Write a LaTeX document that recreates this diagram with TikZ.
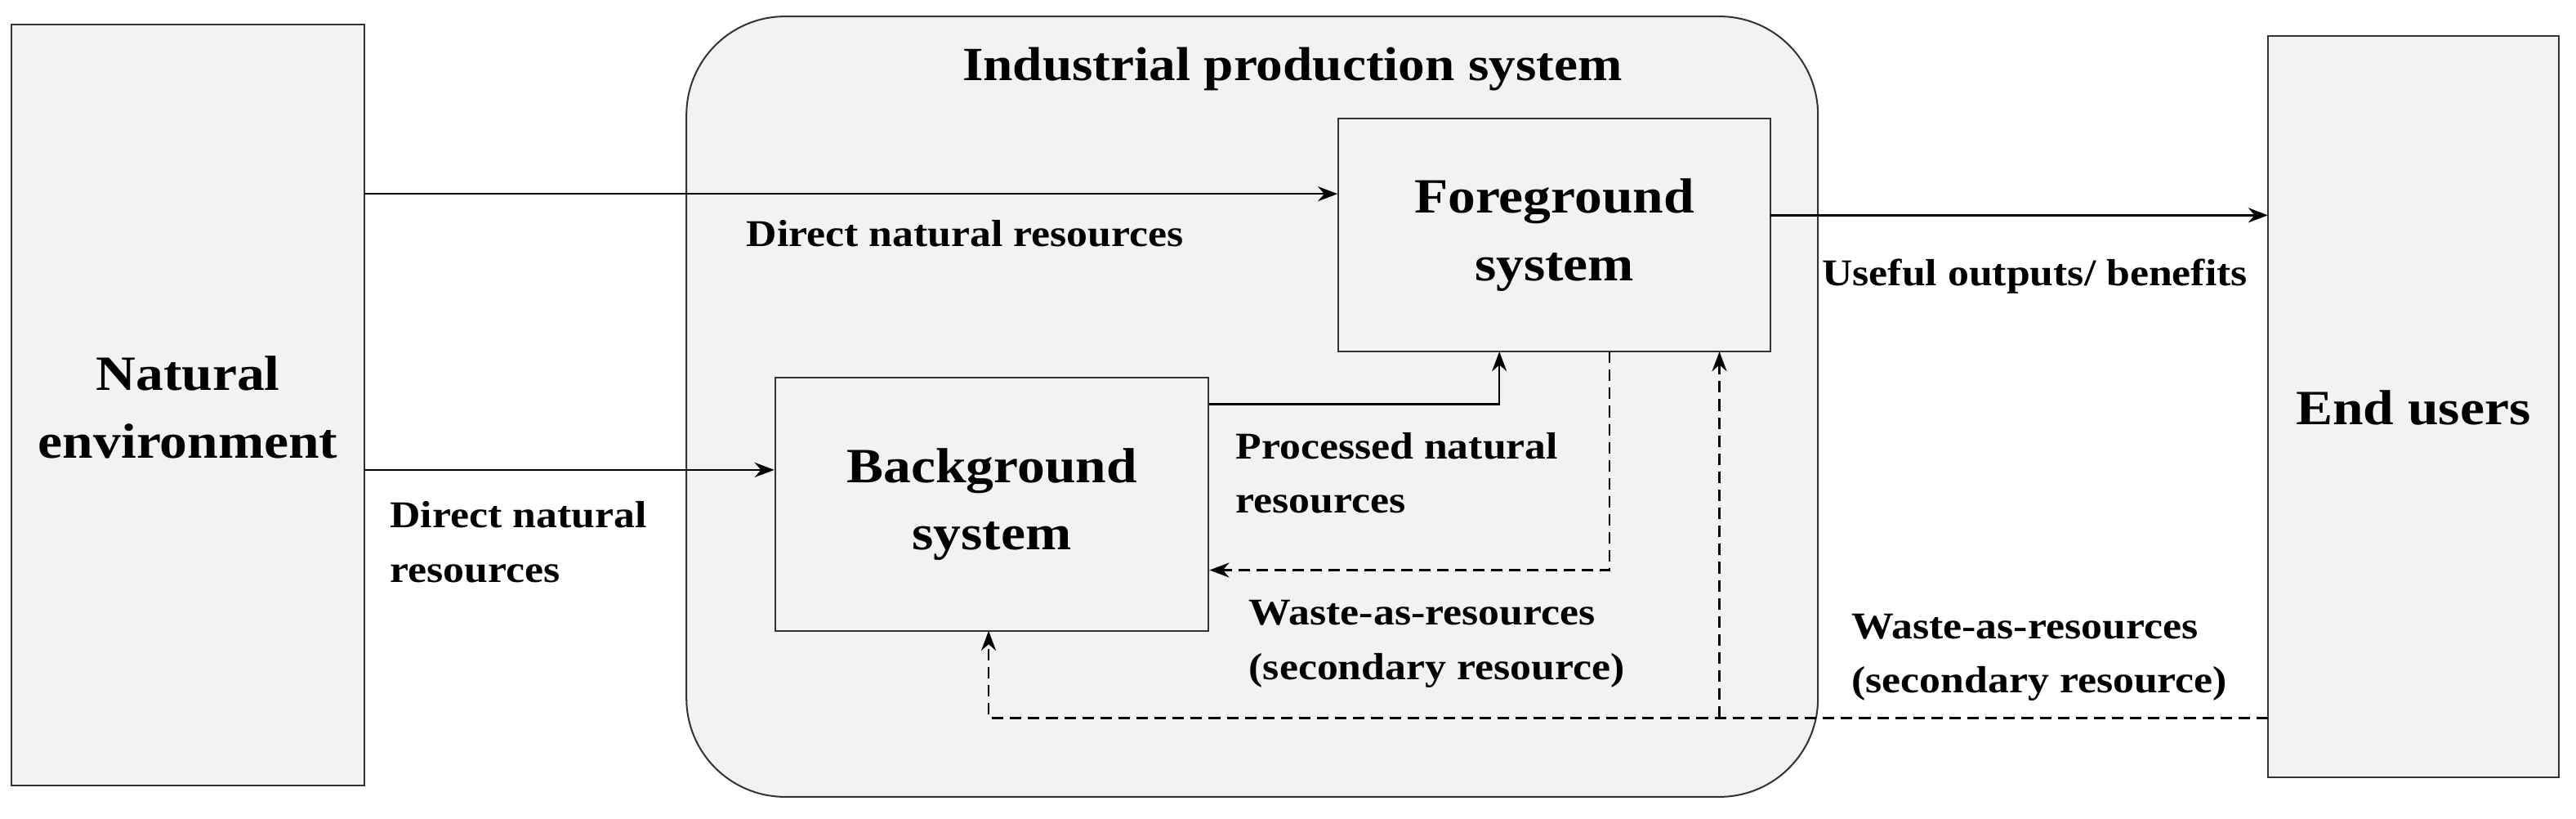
\documentclass[tikz,border=0pt]{standalone}
\usepackage{fontspec}
\setmainfont{Liberation Serif}[BoldFeatures={FakeStretch=1.12}]
\usetikzlibrary{arrows.meta}
\begin{document}
\begin{tikzpicture}[x=1pt,y=-1pt,font=\bfseries,
  box/.style={draw=black!80,fill=black!5,line width=1pt},
  big/.style={font=\bfseries\fontsize{30}{41}\selectfont,align=center},
  lbl/.style={font=\bfseries\fontsize{23}{33}\selectfont,align=left,anchor=west},
  arr/.style={-{Stealth[length=12pt,width=9pt]},line width=1.2pt},
  darr/.style={arr,dashed,dash pattern=on 7pt off 4pt}]
\useasboundingbox (0,0) rectangle (1568.6,498);
\draw[box] (7,15) rectangle (222,478);
\node[big] (ne) at (114.5,248) {Natural\\environment};
\coordinate (neA) at (222,118);
\coordinate (neB) at (222,286);
\draw[box,rounded corners=60pt] (418,10) rectangle (1107,485);
\node[font=\bfseries\fontsize{29}{32}\selectfont] (ttl) at (787,42) {Industrial production system};
\node[box,minimum width=263pt,minimum height=142pt,big] (fg) at (946.5,143) {Foreground\\system};
\node[box,minimum width=264pt,minimum height=154pt,big] (bg) at (604,307) {Background\\system};
\draw[box] (1381,22) rectangle (1558,473);
\node[big] (eu) at (1469.5,248) {End users};
\coordinate (euA) at (1381,131);
\coordinate (euB) at (1381,437);
\draw[arr] (neA) -- (fg.west |- neA);
\node[lbl] (l1) at (451,142) {Direct natural resources};
\draw[arr] (neB) -- (bg.west |- neB);
\node[lbl] (l2) at (234,330) {Direct natural\\resources};
\coordinate (p1) at (913,246);
\draw[arr] (bg.east |- p1) -- (p1) -- (913,214);
\node[lbl] (l3) at (749,288) {Processed natural\\resources};
\draw[darr] (980,214) -- (980,347) -- (bg.east |- 0,347);
\node[lbl] (l4) at (757,392) {Waste-as-resources\\(secondary resource)};
\draw[arr] (1078,131) -- (euA);
\node[lbl] (l5) at (1106,168) {Useful outputs/ benefits};
\draw[darr] (euB) -- (602,437) -- (602,384);
\draw[darr] (1047,437) -- (1047,214);
\node[lbl] (l6) at (1124,400) {Waste-as-resources\\(secondary resource)};
\end{tikzpicture}
\end{document}
